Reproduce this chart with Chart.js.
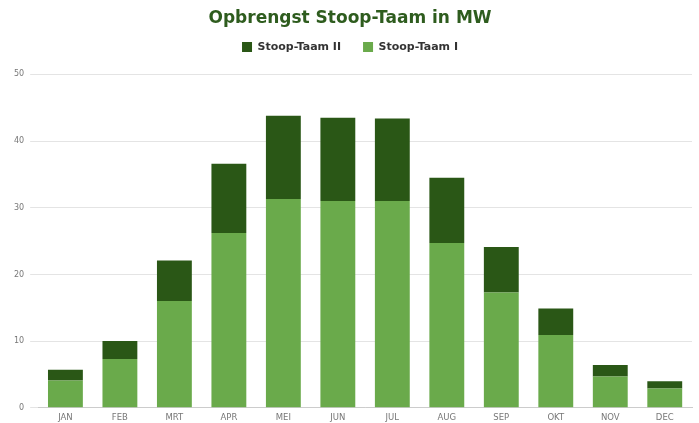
<!DOCTYPE html>
<html>
<head>
<meta charset="utf-8">
<script src="https://cdn.jsdelivr.net/npm/chart.js@4"></script>
<style>
  html, body { margin: 0; padding: 0; background: #fff; overflow: hidden; }
  canvas { display: block; }
</style>
</head>
<body>
<canvas id="chart" width="699" height="423"></canvas>
<script>
// months on the x axis
const months = ['JAN', 'FEB', 'MRT', 'APR', 'MEI', 'JUN', 'JUL', 'AUG', 'SEP', 'OKT', 'NOV', 'DEC'];

// output per month (MW)
const stoopTaamI = [4.1, 7.3, 16.0, 26.2, 31.3, 31.0, 31.0, 24.7, 17.3, 10.9, 4.7, 2.9];
const stoopTaamII = [1.6, 2.7, 6.1, 10.4, 12.5, 12.5, 12.4, 9.8, 6.8, 4.0, 1.7, 1.1];

// y axis ticks
const yTicks = [0, 10, 20, 30, 40, 50];

const ctx = document.getElementById('chart').getContext('2d');

// Stoop-Taam I first so it sits at the bottom of the stack; legend reversed
new Chart(ctx, {
  type: 'bar',
  data: {
    labels: months,
    datasets: [
      {
        label: 'Stoop-Taam I',
        data: stoopTaamI,
        backgroundColor: '#6aaa4b',
        barPercentage: 0.8,
        categoryPercentage: 0.8
      },
      {
        label: 'Stoop-Taam II',
        data: stoopTaamII,
        backgroundColor: '#2a5716',
        barPercentage: 0.8,
        categoryPercentage: 0.8
      }
    ]
  },
  plugins: [{
    // tweak room under the legend
    id: 'legendGap',
    beforeInit(chart) {
      const fit = chart.legend.fit;
      chart.legend.fit = function () {
        fit.bind(chart.legend)();
        this.height += 12;
      };
    }
  }],
  options: {
    responsive: false,
    animation: false,
    layout: { padding: { left: 8, right: 7, top: 0, bottom: -5 } },
    plugins: {
      title: {
        display: true,
        text: 'Opbrengst Stoop-Taam in MW',
        color: '#2e5c1e',
        font: { family: 'DejaVu Sans', size: 17, weight: 'bold' },
        padding: { top: 8, bottom: -9 }
      },
      legend: {
        reverse: true,
        labels: {
          boxWidth: 10,
          boxHeight: 10,
          color: '#333',
          font: { family: 'DejaVu Sans', size: 11, weight: 'bold' },
          padding: 22
        }
      },
      tooltip: { enabled: false }
    },
    scales: {
      x: {
        stacked: true,
        grid: { display: false, drawTicks: false },
        border: { color: '#ccc' },
        ticks: {
          color: '#777',
          padding: 5,
          font: { family: 'DejaVu Sans', size: 8.5 }
        }
      },
      y: {
        stacked: true,
        min: 0,
        max: 50,
        afterBuildTicks: axis => { axis.ticks = yTicks.map(v => ({ value: v })); },
        grid: { color: '#e4e4e4', tickLength: 8 },
        border: { display: false },
        ticks: {
          color: '#777',
          padding: 6,
          font: { family: 'DejaVu Sans', size: 8 }
        }
      }
    }
  }
});
</script>
</body>
</html>
